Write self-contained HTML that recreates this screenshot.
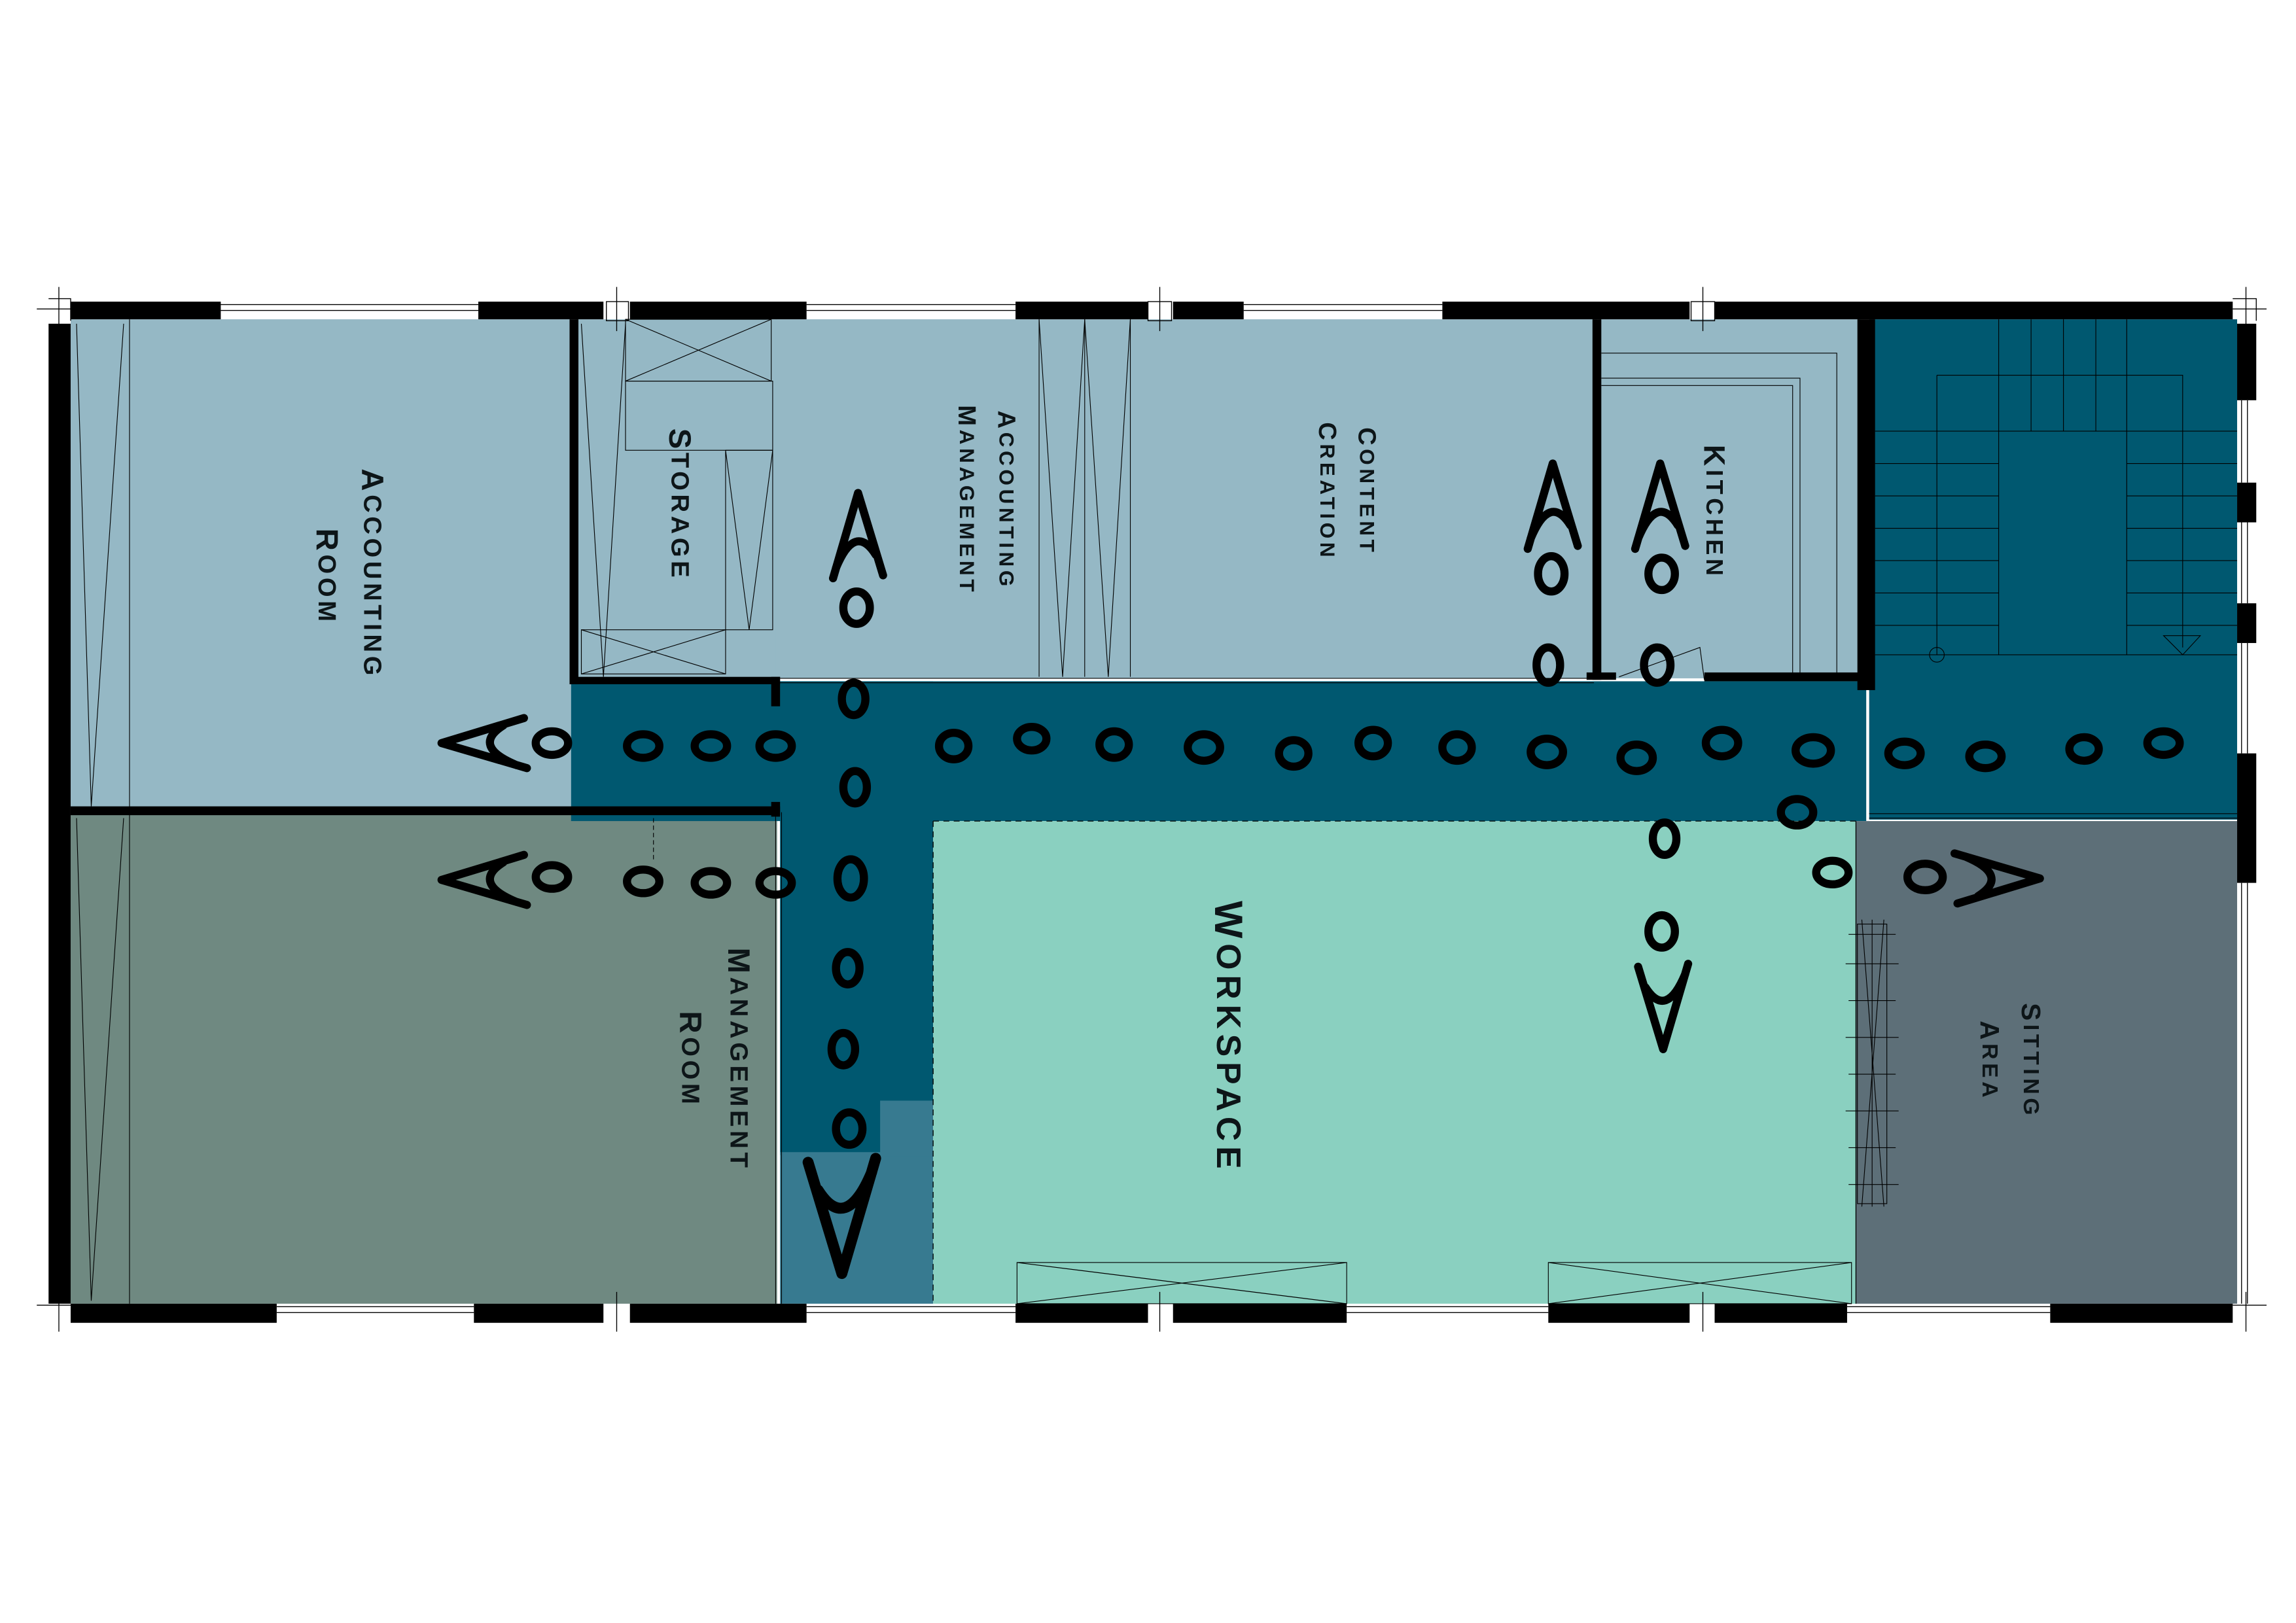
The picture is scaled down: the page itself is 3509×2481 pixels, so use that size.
<!DOCTYPE html>
<html><head><meta charset="utf-8"><style>
html,body{margin:0;padding:0;background:#fff;}
svg{display:block;}
text{font-family:"Liberation Sans",sans-serif;font-weight:bold;fill:#0d1518;}
</style></head><body>
<svg width="3509" height="2481" viewBox="0 0 1560 1103" preserveAspectRatio="none" xmlns="http://www.w3.org/2000/svg">
<defs>
<g id="arr"><path d="M-17,28 L0,-30 L17,26 M-15,21 Q-2,-10 12,12" fill="none" stroke="#000" stroke-width="5.5" stroke-linecap="round" stroke-linejoin="round"/></g>
</defs>
<rect width="1560" height="1103" fill="#fff"/>
<rect x="48" y="217" width="340" height="332" fill="#95b8c5"/>
<rect x="48" y="552" width="480" height="334" fill="#6f8981"/>
<rect x="391" y="217" width="137" height="244" fill="#95b8c5"/>
<rect x="527" y="217" width="558" height="244" fill="#95b8c5"/>
<rect x="1086" y="217" width="178" height="244" fill="#95b8c5"/>
<rect x="1270" y="217" width="250" height="340" fill="#005870"/>
<rect x="388" y="463" width="880" height="95" fill="#005870"/>
<rect x="530" y="463" width="104" height="322" fill="#005870"/>
<rect x="530" y="783" width="104" height="103" fill="#377a90"/>
<rect x="598" y="748" width="36" height="38" fill="#377a90"/>
<rect x="634" y="558" width="627" height="328" fill="#8ad0c0"/>
<rect x="1261" y="558" width="259" height="328" fill="#5d6f78"/>
<line x1="634" y1="558" x2="1261" y2="558" stroke="#000" stroke-width="0.6" stroke-dasharray="4,3"/>
<line x1="634" y1="558" x2="634" y2="886" stroke="#000" stroke-width="0.6" stroke-dasharray="4,3"/>
<line x1="1261" y1="558" x2="1261" y2="886" stroke="#000" stroke-width="0.6"/>
<g stroke="#000" stroke-width="0.5" fill="none">
<line x1="88" y1="217" x2="88" y2="886"/>
<path d="M52,220 L62,548 M84,220 L62,548 M52,556 L62,884 M84,556 L62,884"/>
<path d="M395,220 L410,460 M425,220 L410,460"/>
<rect x="425" y="217" width="99" height="42"/><path d="M425,217 L524,259 M524,217 L425,259"/>
<rect x="425" y="259" width="100" height="47"/>
<rect x="493" y="306" width="32" height="122"/><path d="M493,306 L509,428 M525,306 L509,428"/>
<rect x="395" y="428" width="98" height="30"/><path d="M395,428 L493,458 M493,428 L395,458"/>
<line x1="706" y1="217" x2="706" y2="460"/><line x1="737" y1="217" x2="737" y2="460"/><line x1="768" y1="217" x2="768" y2="460"/>
<path d="M706,217 L722,460 M737,217 L722,460 M737,217 L753,460 M768,217 L753,460"/>
<path d="M1088,240 L1248,240 L1248,460 M1088,257 L1223,257 L1223,460 M1088,262 L1218,262 L1218,460"/>
<line x1="527" y1="461" x2="1083" y2="461"/><line x1="527" y1="464" x2="1083" y2="464"/>
<path d="M1358,217 L1358,445 M1445,217 L1445,445 M1380,217 L1380,293 M1402,217 L1402,293 M1424,217 L1424,293 M1316,255 L1483,255 L1483,440 M1316,255 L1316,445"/>
<path d="M1274,293 L1520,293 M1274,315 L1358,315 M1274,337 L1358,337 M1274,359 L1358,359 M1274,381 L1358,381 M1274,403 L1358,403 M1274,425 L1358,425 M1445,315 L1520,315 M1445,337 L1520,337 M1445,359 L1520,359 M1445,381 L1520,381 M1445,403 L1520,403 M1445,425 L1520,425 M1274,445 L1520,445"/>
<circle cx="1316" cy="445" r="5"/><path d="M1470,432 L1495,432 L1483,445 Z"/>
<path d="M1270,553 L1520,553 M1270,556 L1520,556"/>
<rect x="691" y="858" width="224" height="28"/><path d="M691,858 L915,886 M915,858 L691,886"/>
<rect x="1052" y="858" width="206" height="28"/><path d="M1052,858 L1258,886 M1258,858 L1052,886"/>
<rect x="1262" y="628" width="20" height="190"/>
<path d="M1256,635 L1288,635 M1254,655 L1290,655 M1256,680 L1288,680 M1254,705 L1290,705 M1256,730 L1288,730 M1254,755 L1290,755 M1256,780 L1288,780 M1256,805 L1290,805"/>
<path d="M1265,625 L1280,820 M1280,625 L1265,820 M1272,625 L1272,820"/>
<line x1="444" y1="556" x2="444" y2="585" stroke-dasharray="3,2"/>
<line x1="527" y1="552" x2="527" y2="886"/><line x1="531" y1="552" x2="531" y2="886"/>
<path d="M1100,460 L1155,440 L1158,462" />
</g>
<g fill="#000">
<rect x="48" y="205" width="102" height="12"/><rect x="325" y="205" width="85" height="12"/><rect x="428" y="205" width="120" height="12"/>
<rect x="690" y="205" width="90" height="12"/><rect x="797" y="205" width="48" height="12"/><rect x="980" y="205" width="168" height="12"/><rect x="1165" y="205" width="352" height="12"/>
<rect x="48" y="886" width="140" height="13"/><rect x="322" y="886" width="88" height="13"/><rect x="428" y="886" width="120" height="13"/>
<rect x="690" y="886" width="90" height="13"/><rect x="797" y="886" width="118" height="13"/><rect x="1052" y="886" width="96" height="13"/><rect x="1165" y="886" width="90" height="13"/><rect x="1393" y="886" width="124" height="13"/>
<rect x="33" y="220" width="15" height="666"/>
<rect x="1520" y="220" width="13" height="52"/><rect x="1520" y="328" width="13" height="27"/><rect x="1520" y="410" width="13" height="27"/><rect x="1520" y="512" width="13" height="88"/>
<rect x="48" y="548" width="482" height="6"/>
<rect x="387" y="217" width="6" height="248"/>
<rect x="387" y="460" width="143" height="5"/>
<rect x="524" y="460" width="6" height="20"/><rect x="524" y="545" width="6" height="10"/>
<rect x="1082" y="217" width="6" height="245"/><rect x="1078" y="457" width="20" height="5"/>
<rect x="1158" y="457" width="108" height="6"/>
<rect x="1262" y="217" width="12" height="252"/>
</g>
<g stroke="#000" stroke-width="0.6" fill="none">
<path d="M150,207 L325,207 M150,211 L325,211 M548,207 L690,207 M548,211 L690,211 M845,207 L980,207 M845,211 L980,211"/>
<path d="M188,888 L322,888 M188,892 L322,892 M548,888 L690,888 M548,892 L690,892 M915,888 L1052,888 M915,892 L1052,892 M1255,888 L1393,888 M1255,892 L1393,892"/>
<path d="M1523,272 L1523,328 M1527,272 L1527,328 M1523,355 L1523,410 M1527,355 L1527,410 M1523,437 L1523,512 M1527,437 L1527,512 M1523,600 L1523,886 M1527,600 L1527,886"/>
<path d="M40,195 L40,225 M25,210 L55,210 M33,203 L48,203 L48,218 M419,195 L419,225 M412,205 L427,205 L427,218 L412,218 Z M788,195 L788,225 M780,205 L796,205 L796,218 L780,218 Z M1157,195 L1157,225 M1149,205 L1165,205 L1165,218 L1149,218 Z M1526,195 L1526,225 M1517,210 L1540,210 M1517,203 L1533,203 L1533,218"/>
<path d="M40,880 L40,905 M25,887 L55,887 M419,878 L419,905 M788,878 L788,905 M1157,878 L1157,905 M1526,878 L1526,905 M1517,887 L1540,887"/>
</g>
<g letter-spacing="2.5" text-anchor="middle" dominant-baseline="central">
<text transform="translate(253,390) rotate(90)" font-size="17"><tspan font-size="21">A</tspan>CCOUNTING</text>
<text transform="translate(222,392) rotate(90)" font-size="17"><tspan font-size="21">R</tspan>OOM</text>
<text transform="translate(462,343) rotate(90)" font-size="17"><tspan font-size="21">S</tspan>TORAGE</text>
<text transform="translate(684,340) rotate(90)" font-size="14"><tspan font-size="17">A</tspan>CCOUNTING</text>
<text transform="translate(657,340) rotate(90)" font-size="14"><tspan font-size="17">M</tspan>ANAGEMENT</text>
<text transform="translate(929,334) rotate(90)" font-size="14"><tspan font-size="17">C</tspan>ONTENT</text>
<text transform="translate(902,334) rotate(90)" font-size="14"><tspan font-size="17">C</tspan>REATION</text>
<text transform="translate(1165,348) rotate(90)" font-size="16"><tspan font-size="20">K</tspan>ITCHEN</text>
<text transform="translate(835,705) rotate(90)" font-size="23" letter-spacing="3.5"><tspan font-size="27">W</tspan>ORKSPACE</text>
<text transform="translate(502,720) rotate(90)" font-size="17"><tspan font-size="21">M</tspan>ANAGEMENT</text>
<text transform="translate(469,720) rotate(90)" font-size="17"><tspan font-size="21">R</tspan>OOM</text>
<text transform="translate(1380,721) rotate(90)" font-size="15"><tspan font-size="18">S</tspan>ITTING</text>
<text transform="translate(1352,721) rotate(90)" font-size="15"><tspan font-size="18">A</tspan>REA</text>
</g>
<g fill="none" stroke="#000" stroke-width="5.5">
<ellipse cx="375" cy="505" rx="11" ry="8"/><ellipse cx="437" cy="507" rx="11" ry="8"/><ellipse cx="483" cy="507" rx="11" ry="8"/><ellipse cx="527" cy="507" rx="11" ry="8"/>
<ellipse cx="648" cy="507" rx="10" ry="9"/><ellipse cx="701" cy="502" rx="10" ry="8"/><ellipse cx="757" cy="506" rx="10" ry="9"/><ellipse cx="818" cy="508" rx="11" ry="9"/><ellipse cx="879" cy="512" rx="10" ry="9"/><ellipse cx="933" cy="505" rx="10" ry="9"/><ellipse cx="990" cy="508" rx="10" ry="9"/><ellipse cx="1051" cy="511" rx="11" ry="9"/><ellipse cx="1112" cy="515" rx="11" ry="9"/><ellipse cx="1170" cy="505" rx="11" ry="9"/><ellipse cx="1232" cy="510" rx="12" ry="9"/><ellipse cx="1294" cy="512" rx="11" ry="8"/><ellipse cx="1349" cy="514" rx="11" ry="8"/><ellipse cx="1416" cy="509" rx="10" ry="8"/><ellipse cx="1470" cy="505" rx="11" ry="8"/>
<ellipse cx="375" cy="596" rx="11" ry="8"/><ellipse cx="437" cy="599" rx="11" ry="8"/><ellipse cx="483" cy="600" rx="11" ry="8"/><ellipse cx="527" cy="600" rx="11" ry="8"/>
<ellipse cx="582" cy="413" rx="9" ry="11"/><ellipse cx="580" cy="475" rx="8" ry="11"/><ellipse cx="581" cy="535" rx="8" ry="11"/><ellipse cx="578" cy="597" rx="9" ry="13"/><ellipse cx="576" cy="658" rx="8" ry="11"/><ellipse cx="573" cy="713" rx="8" ry="11"/><ellipse cx="577" cy="767" rx="9" ry="11"/>
<ellipse cx="1054" cy="390" rx="9" ry="12"/><ellipse cx="1052" cy="452" rx="8" ry="12"/><ellipse cx="1129" cy="390" rx="9" ry="11"/><ellipse cx="1126" cy="452" rx="9" ry="12"/>
<ellipse cx="1221" cy="552" rx="11" ry="9"/><ellipse cx="1245" cy="593" rx="11" ry="8"/><ellipse cx="1131" cy="570" rx="8" ry="11"/><ellipse cx="1129" cy="633" rx="9" ry="11"/><ellipse cx="1308" cy="596" rx="12" ry="9"/>
</g>
<use href="#arr" transform="translate(330,505) rotate(-90)"/>
<use href="#arr" transform="translate(330,598) rotate(-90)"/>
<use href="#arr" transform="translate(583,365)"/>
<use href="#arr" transform="translate(1055,345)"/>
<use href="#arr" transform="translate(1128,345)"/>
<use href="#arr" transform="translate(1130,683) rotate(180)"/>
<use href="#arr" transform="translate(572,825) rotate(180) scale(1.35)"/>
<use href="#arr" transform="translate(1356,597) rotate(90)"/>
</svg>
</body></html>
